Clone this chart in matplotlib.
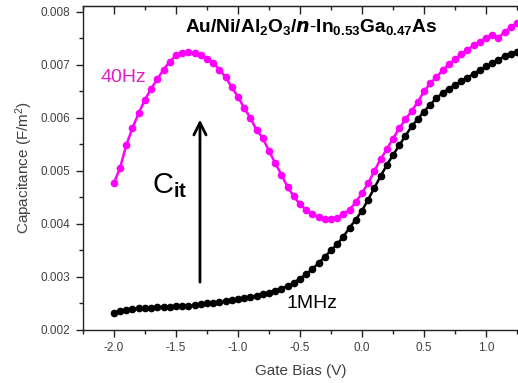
import matplotlib
matplotlib.use("Agg")
import matplotlib.pyplot as plt
from matplotlib.ticker import MultipleLocator, FormatStrFormatter

plt.rcParams['font.family'] = ['Liberation Sans', 'DejaVu Sans']
plt.rcParams['axes.unicode_minus'] = False
plt.rcParams['mathtext.fontset'] = 'custom'
plt.rcParams['mathtext.rm'] = 'Liberation Sans'
plt.rcParams['mathtext.it'] = 'Liberation Sans:italic'
plt.rcParams['mathtext.bf'] = 'Liberation Sans:bold'

gate_bias = [-2.00, -1.95, -1.90, -1.85, -1.80, -1.75, -1.70, -1.65, -1.60, -1.55,
             -1.50, -1.45, -1.40, -1.35, -1.30, -1.25, -1.20, -1.15, -1.10, -1.05,
             -1.00, -0.95, -0.90, -0.85, -0.80, -0.75, -0.70, -0.65, -0.60, -0.55,
             -0.50, -0.45, -0.40, -0.35, -0.30, -0.25, -0.20, -0.15, -0.10, -0.05,
             0.00, 0.05, 0.10, 0.15, 0.20, 0.25, 0.30, 0.35, 0.40, 0.45,
             0.50, 0.55, 0.60, 0.65, 0.70, 0.75, 0.80, 0.85, 0.90, 0.95,
             1.00, 1.05, 1.10, 1.15, 1.20, 1.25]

cap_40hz = [0.00477, 0.00506, 0.00549, 0.00581, 0.00609, 0.00634, 0.00655, 0.00673, 0.00691, 0.00706,
            0.00718, 0.00723, 0.00725, 0.00723, 0.00719, 0.00712, 0.00704, 0.00691, 0.00677, 0.00658,
            0.00640, 0.00619, 0.00600, 0.00577, 0.00562, 0.00538, 0.00515, 0.00493, 0.00470, 0.00452,
            0.00437, 0.00426, 0.00419, 0.00413, 0.00410, 0.00410, 0.00412, 0.00418, 0.00427, 0.00441,
            0.00458, 0.00477, 0.00500, 0.00522, 0.00541, 0.00561, 0.00580, 0.00597, 0.00613, 0.00630,
            0.00650, 0.00665, 0.00677, 0.00690, 0.00701, 0.00711, 0.00720, 0.00728, 0.00737, 0.00744,
            0.00751, 0.00757, 0.00751, 0.00762, 0.00771, 0.00779]

cap_1mhz = [0.00232, 0.00235, 0.00238, 0.00240, 0.00241, 0.00242, 0.00242, 0.00243, 0.00243, 0.00244,
            0.00245, 0.00246, 0.00246, 0.00247, 0.00249, 0.00250, 0.00251, 0.00252, 0.00254, 0.00256,
            0.00258, 0.00260, 0.00262, 0.00265, 0.00267, 0.00270, 0.00274, 0.00278, 0.00283, 0.00289,
            0.00297, 0.00305, 0.00315, 0.00326, 0.00338, 0.00350, 0.00362, 0.00376, 0.00393, 0.00408,
            0.00425, 0.00446, 0.00468, 0.00490, 0.00511, 0.00530, 0.00548, 0.00566, 0.00584, 0.00598,
            0.00612, 0.00625, 0.00637, 0.00647, 0.00655, 0.00662, 0.00669, 0.00676, 0.00683, 0.00690,
            0.00697, 0.00703, 0.00710, 0.00716, 0.00721, 0.00725]

fig = plt.figure(figsize=(5.18, 3.83), dpi=100)
ax = fig.add_axes([0.160, 0.1384, 0.840, 0.8459])

ax.plot(gate_bias, cap_40hz, '-o', color='#ff00ff', lw=1.8, ms=4.5, mec='#ff00ff')
ax.plot(gate_bias, cap_1mhz, '-o', color='black', lw=1.8, ms=4.5, mec='black')

ax.set_xlim(-2.25, 1.258)
ax.set_ylim(0.002, 0.00811)

ax.xaxis.set_major_locator(MultipleLocator(0.5))
ax.xaxis.set_minor_locator(MultipleLocator(0.25))
ax.yaxis.set_major_locator(MultipleLocator(0.001))
ax.yaxis.set_minor_locator(MultipleLocator(0.0005))
ax.xaxis.set_major_formatter(FormatStrFormatter('%.1f'))
ax.yaxis.set_major_formatter(FormatStrFormatter('%.3f'))

spine_col = '#222222'
for s in ['left', 'bottom', 'top']:
    ax.spines[s].set_color(spine_col)
    ax.spines[s].set_linewidth(1.0)
ax.spines['right'].set_visible(False)

ax.tick_params(axis='both', which='major', direction='out', length=5, width=1,
               color=spine_col, labelsize=8.5, labelcolor='#404040', pad=4)
ax.tick_params(axis='both', which='minor', direction='out', length=3, width=1, color=spine_col)
ax.tick_params(axis='x', which='both', top=False)

sec = ax.secondary_xaxis('top')
sec.xaxis.set_major_locator(MultipleLocator(0.5))
sec.xaxis.set_minor_locator(MultipleLocator(0.25))
sec.tick_params(axis='x', which='major', direction='in', length=6, width=1, color=spine_col, labeltop=False)
sec.tick_params(axis='x', which='minor', direction='in', length=3, width=1, color=spine_col)
sec.spines['top'].set_color(spine_col)

ax.set_xlabel('Gate Bias (V)', fontsize=11, color='#404040', labelpad=7)
ax.set_ylabel('Capacitance (F/m$^2$)', fontsize=11, color='#404040', labelpad=4)

ax.text(-2.11, 0.00668, '40Hz', fontsize=14, color='#e020c0')
ax.text(-0.605, 0.00242, '1MHz', fontsize=14, color='black')
ax.text(-1.43, 0.00762, r'$\mathbf{Au/Ni/Al_2O_3/}\boldsymbol{n}\mathbf{\text{-}In_{0.53}Ga_{0.47}As}$',
        fontsize=13.8, color='black')
ax.text(-1.69, 0.00458, r'C$_{\mathbf{it}}$', fontsize=21, color='black')

ax.annotate('', xy=(-1.306, 0.00602), xytext=(-1.306, 0.00285),
            arrowprops=dict(arrowstyle='->', color='black', lw=2, mutation_scale=22))

fig.savefig('out.png', dpi=100)
